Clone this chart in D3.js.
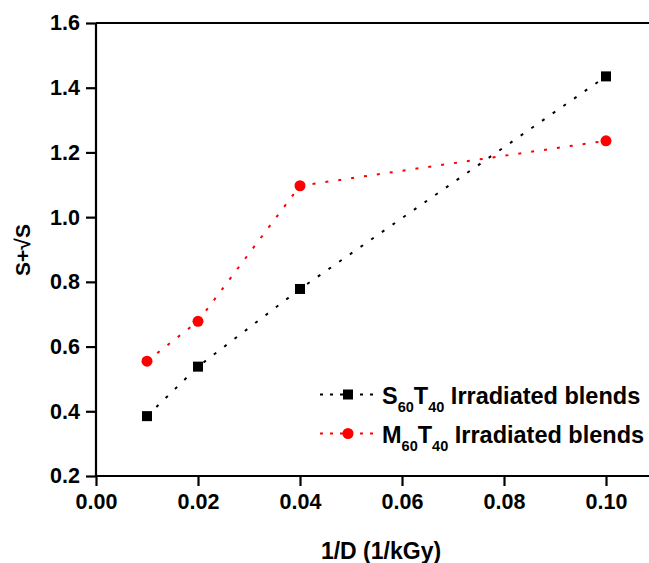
<!DOCTYPE html>
<html>
<head>
<meta charset="utf-8">
<script src="https://cdn.jsdelivr.net/npm/d3@7/dist/d3.min.js"></script>
<style>
  html, body { margin: 0; padding: 0; background: #fff; }
  svg text { font-family: "Liberation Sans", Arial, sans-serif; font-weight: bold; fill: #000; }
</style>
</head>
<body>
<svg id="chart" width="649" height="563"></svg>
<script>
// Inverse dose (1/kGy)
const invDose = [0.01, 0.02, 0.04, 0.10];
// S + sqrt(S) for each blend
const s60t40 = [0.385, 0.538, 0.778, 1.435];
const m60t40 = [0.555, 0.678, 1.097, 1.236];
const xTicks = [0.00, 0.02, 0.04, 0.06, 0.08, 0.10];
const yTicks = [0.2, 0.4, 0.6, 0.8, 1.0, 1.2, 1.4, 1.6];

const series = [
  { prefix: "S", values: s60t40, color: "#000000", marker: "square" },
  { prefix: "M", values: m60t40, color: "#ff0000", marker: "circle" }
];

const svg = d3.select("#chart");
const plotLeft = 96, plotTop = 23, plotBottom = 476;

const x = d3.scaleLinear().domain([0, 0.11]).range([plotLeft, plotLeft + 0.11 / 0.02 * 102]);
const y = d3.scaleLinear().domain([0.2, 1.6]).range([plotBottom, plotTop]);

// Axes
const xAxis = svg.append("g")
  .attr("transform", `translate(0,${plotBottom})`)
  .call(d3.axisBottom(x).tickValues(xTicks).tickFormat(d3.format(".2f")).tickSize(10).tickPadding(8));
const yAxis = svg.append("g")
  .attr("transform", `translate(${plotLeft},0)`)
  .call(d3.axisLeft(y).tickValues(yTicks).tickFormat(d3.format(".1f")).tickSize(10).tickPadding(6));

[xAxis, yAxis].forEach(g => {
  g.select(".domain").attr("stroke-width", 2.2).attr("stroke", "#000");
  g.selectAll(".tick line").attr("stroke-width", 2.2).attr("stroke", "#000");
  g.selectAll(".tick text").style("font-size", "21.5px").attr("fill", "#000");
});
xAxis.select(".domain").attr("d", `M${plotLeft},0H${x(0.11)}`);
yAxis.select(".domain").attr("d", `M0,${plotBottom}V${plotTop}`);

// Top frame line
svg.append("line")
  .attr("x1", plotLeft).attr("x2", x(0.11))
  .attr("y1", plotTop).attr("y2", plotTop)
  .attr("stroke", "#000").attr("stroke-width", 2.2);

// Series lines and markers
const line = d3.line().x((d, i) => x(invDose[i])).y(d => y(d));

function drawMarker(g, type, cx, cy, color) {
  if (type === "square") {
    g.append("rect").attr("x", cx - 5).attr("y", cy - 5).attr("width", 10).attr("height", 10).attr("fill", color);
  } else {
    g.append("circle").attr("cx", cx).attr("cy", cy).attr("r", 5.5).attr("fill", color);
  }
}

series.forEach(s => {
  svg.append("path")
    .datum(s.values)
    .attr("d", line)
    .attr("fill", "none")
    .attr("stroke", s.color)
    .attr("stroke-width", 2)
    .attr("stroke-dasharray", "3,10");
  const g = svg.append("g");
  s.values.forEach((v, i) => drawMarker(g, s.marker, x(invDose[i]), y(v), s.color));
});

// Legend
series.forEach((s, i) => {
  const ly = 394.5 + i * 39;
  svg.append("line")
    .attr("x1", 320).attr("x2", 376).attr("y1", ly).attr("y2", ly)
    .attr("stroke", s.color).attr("stroke-width", 2).attr("stroke-dasharray", "3,7");
  drawMarker(svg, s.marker, 348, ly, s.color);
  const t = svg.append("text").attr("x", 382).attr("y", ly + 9).style("font-size", "23.5px");
  t.append("tspan").text(s.prefix);
  t.append("tspan").attr("dy", 8).style("font-size", "14.5px").text("60");
  t.append("tspan").attr("dy", -8).text("T");
  t.append("tspan").attr("dy", 8).style("font-size", "14.5px").text("40");
  t.append("tspan").attr("dy", -8).text(" Irradiated blends");
});

// Axis titles
svg.append("text")
  .attr("x", 381).attr("y", 559)
  .attr("text-anchor", "middle")
  .style("font-size", "23px")
  .text("1/D (1/kGy)");

svg.append("text")
  .attr("transform", "translate(30,250) rotate(-90)")
  .attr("text-anchor", "middle")
  .style("font-size", "21px")
  .text("S+√S");
</script>
</body>
</html>
